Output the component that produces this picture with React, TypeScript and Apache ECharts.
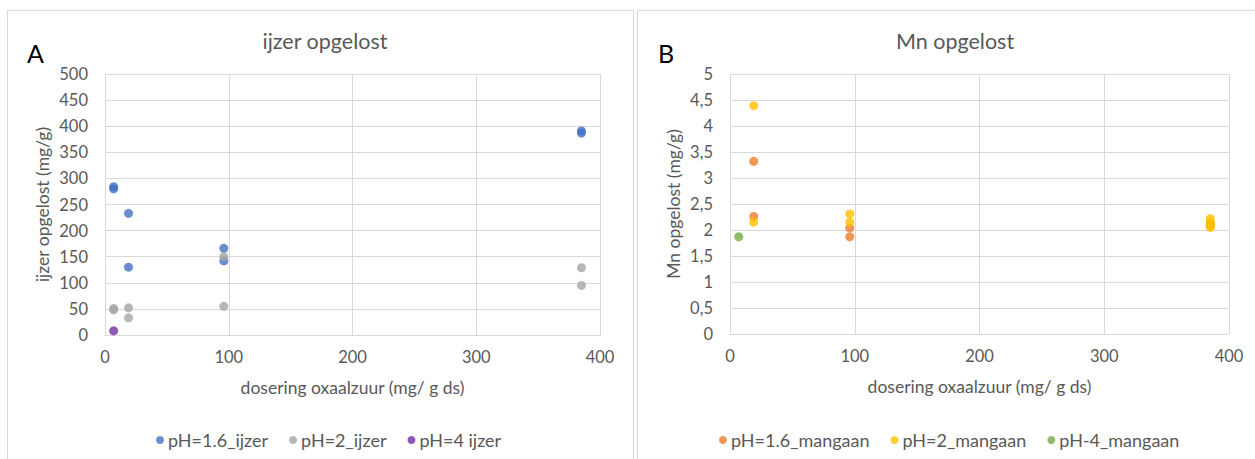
import React, { useEffect, useRef } from "react";
import * as echarts from "echarts";

const feX16 = [7, 7, 19, 19, 96, 96, 385, 385];
const feY16 = [284, 280, 233, 130, 166, 142, 391, 387];
const feX2 = [7, 7, 19, 19, 96, 96, 385, 385];
const feY2 = [51, 48, 52, 33, 150, 55, 129, 95];
const feX4 = [7];
const feY4 = [8];

const mnX16 = [19, 19, 96, 96, 385, 385];
const mnY16 = [3.32, 2.26, 2.04, 1.87, 2.12, 2.09];
const mnX2 = [19, 19, 96, 96, 385, 385, 385, 385];
const mnY2 = [4.39, 2.15, 2.31, 2.15, 2.22, 2.15, 2.08, 2.05];
const mnX4 = [7];
const mnY4 = [1.87];

const seriesNamesFe = ["pH=1.6_ijzer", "pH=2_ijzer", "pH=4 ijzer"];
const seriesNamesMn = ["pH=1.6_mangaan", "pH=2_mangaan", "pH-4_mangaan"];
const titles = ["ijzer opgelost", "Mn opgelost"];
const xName = "dosering oxaalzuur (mg/ g ds)";
const yNames = ["ijzer opgelost (mg/g)", "Mn opgelost (mg/g)"];

const zip = (xs: number[], ys: number[]) => xs.map((x, i) => [x, ys[i]]);

const FONT = "Lato";
const TXT = "#595959";
const GRIDC = "#d9d9d9";
const FS = 16.5;
const NFS = 17.5;

export default function App() {
  const ref = useRef<HTMLDivElement>(null);
  useEffect(() => {
    if (!ref.current) return;
    const chart = echarts.init(ref.current, undefined, { renderer: "svg" });
    const xAxisBase = (gridIndex: number) => ({
      type: "value",
      gridIndex,
      min: 0,
      max: 400,
      interval: 100,
      name: xName,
      nameLocation: "middle",
      nameGap: 43,
      nameTextStyle: { color: TXT, fontSize: NFS, fontFamily: FONT },
      axisLine: { lineStyle: { color: GRIDC } },
      axisTick: { show: false },
      axisLabel: { color: TXT, fontSize: FS, fontFamily: FONT, margin: 13 },
      splitLine: { lineStyle: { color: GRIDC } },
    });
    const yAxisBase = (gridIndex: number, max: number, interval: number, comma: boolean, gap: number) => ({
      type: "value",
      gridIndex,
      min: 0,
      max,
      interval,
      name: yNames[gridIndex],
      nameLocation: "middle",
      nameGap: gap,
      nameRotate: 90,
      nameTextStyle: { color: TXT, fontSize: NFS, fontFamily: FONT },
      axisLine: { show: true, lineStyle: { color: GRIDC } },
      axisTick: { show: false },
      axisLabel: {
        color: TXT,
        fontSize: FS,
        fontFamily: FONT,
        margin: 17,
        formatter: (v: number) => (comma ? String(v).replace(".", ",") : String(v)),
      },
      splitLine: { lineStyle: { color: GRIDC } },
    });
    const sc = (name: string, data: number[][], color: string, idx: number) => ({
      type: "scatter",
      name,
      data,
      xAxisIndex: idx,
      yAxisIndex: idx,
      symbolSize: 9,
      itemStyle: { color },
    });
    const legendBase = {
      top: 426,
      icon: "circle",
      itemWidth: 8,
      itemHeight: 8,
      itemGap: 21,
      textStyle: { color: TXT, fontSize: 18, fontFamily: FONT, padding: [0, 0, 0, -1] },
    };
    chart.setOption({
      animation: false,
      textStyle: { fontFamily: FONT },
      title: [
        { text: titles[0], left: 320, top: 25, textAlign: "center", textStyle: { color: TXT, fontSize: 21.5, fontWeight: "normal", fontFamily: FONT } },
        { text: titles[1], left: 950, top: 25, textAlign: "center", textStyle: { color: TXT, fontSize: 21.5, fontWeight: "normal", fontFamily: FONT } },
      ],
      graphic: [
        { type: "rect", shape: { x: 7.5, y: 10.5, width: 626, height: 460 }, style: { fill: "none", stroke: GRIDC, lineWidth: 1 } },
        { type: "rect", shape: { x: 637.5, y: 10.5, width: 630, height: 460 }, style: { fill: "none", stroke: GRIDC, lineWidth: 1 } },
        { type: "text", x: 27, y: 40, style: { text: "A", fontSize: 25, fontFamily: FONT, fill: "#000" } },
        { type: "text", x: 658, y: 40, style: { text: "B", fontSize: 25, fontFamily: FONT, fill: "#000" } },
      ],
      grid: [
        { left: 105, top: 74, width: 495, height: 261 },
        { left: 730, top: 74, width: 499, height: 260 },
      ],
      xAxis: [xAxisBase(0), xAxisBase(1)],
      yAxis: [yAxisBase(0, 500, 50, false, 54), yAxisBase(1, 5, 0.5, true, 48)],
      legend: [
        { ...legendBase, data: seriesNamesFe, left: 151 },
        { ...legendBase, data: seriesNamesMn, left: 714 },
      ],
      series: [
        sc(seriesNamesFe[0], zip(feX16, feY16), "#4472C4", 0),
        sc(seriesNamesFe[1], zip(feX2, feY2), "#A5A5A5", 0),
        sc(seriesNamesFe[2], zip(feX4, feY4), "#7030A0", 0),
        sc(seriesNamesMn[0], zip(mnX16, mnY16), "#ED7D31", 1),
        sc(seriesNamesMn[1], zip(mnX2, mnY2), "#FFC000", 1),
        sc(seriesNamesMn[2], zip(mnX4, mnY4), "#70AD47", 1),
      ],
    });
    return () => chart.dispose();
  }, []);
  return (
    <div
      ref={ref}
      style={{ position: "fixed", left: 0, top: 0, width: 1255, height: 459, background: "#fff" }}
    />
  );
}
